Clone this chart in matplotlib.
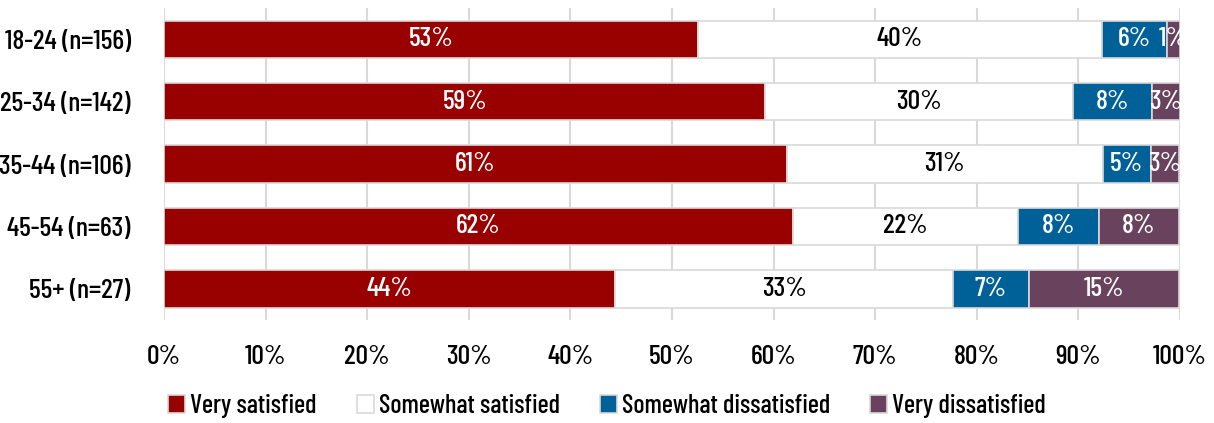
import matplotlib
matplotlib.use("Agg")
import matplotlib.pyplot as plt
import numpy as np

plt.rcParams['font.family'] = ['Barlow Condensed', 'DejaVu Sans']
plt.rcParams['font.weight'] = 500

groups = ['18-24 (n=156)', '25-34 (n=142)', '35-44 (n=106)', '45-54 (n=63)', '55+ (n=27)']
very_sat = [52.6, 59.2, 61.3, 61.9, 44.4]
somewhat_sat = [39.7, 30.3, 31.1, 22.2, 33.3]
somewhat_dis = [6.4, 7.7, 4.7, 7.9, 7.4]
very_dis = [1.3, 2.8, 2.8, 7.9, 14.8]
labels = [['53%', '40%', '6%', '1%'],
          ['59%', '30%', '8%', '3%'],
          ['61%', '31%', '5%', '3%'],
          ['62%', '22%', '8%', '8%'],
          ['44%', '33%', '7%', '15%']]

series = [('Very satisfied', very_sat, '#990000', 'white'),
          ('Somewhat satisfied', somewhat_sat, 'white', 'black'),
          ('Somewhat dissatisfied', somewhat_dis, '#006098', 'white'),
          ('Very dissatisfied', very_dis, '#69435d', 'white')]

fs = 20

fig = plt.figure(figsize=(12.14, 4.23), dpi=100)
ax = fig.add_axes([0.1351, 0.2435, 0.8369, 0.7375])

y = np.arange(len(groups))
left = np.zeros(len(groups))
for k, (name, vals, col, tcol) in enumerate(series):
    vals = np.array(vals)
    ax.barh(y, vals, left=left, height=0.6, color=col, edgecolor='#d9d9d9',
            linewidth=1.2, label=name, zorder=3)
    for i in range(len(groups)):
        ax.text(left[i] + vals[i] / 2, y[i], labels[i][k], ha='center', va='center',
                color=tcol, fontsize=fs, zorder=4)
    left += vals

ax.set_xlim(0, 100)
ax.set_ylim(len(groups) - 0.5, -0.5)
ax.set_yticks(y)
ax.set_yticklabels(groups, fontsize=fs)
ax.set_xticks(np.arange(0, 101, 10))
ax.set_xticklabels([f'{v}%' for v in range(0, 101, 10)], fontsize=fs)
ax.tick_params(length=0)
ax.tick_params(axis='y', pad=24)
ax.tick_params(axis='x', pad=18)
ax.grid(axis='x', color='#d9d9d9', linewidth=1.5, zorder=0)
for s in ax.spines.values():
    s.set_visible(False)

fig.legend(loc='lower center', ncol=4, frameon=False, fontsize=19,
           bbox_to_anchor=(0.5, -0.045), handlelength=0.65, handleheight=0.65,
           handletextpad=0.2, columnspacing=1.5)

fig.savefig('out.png', dpi=100)
